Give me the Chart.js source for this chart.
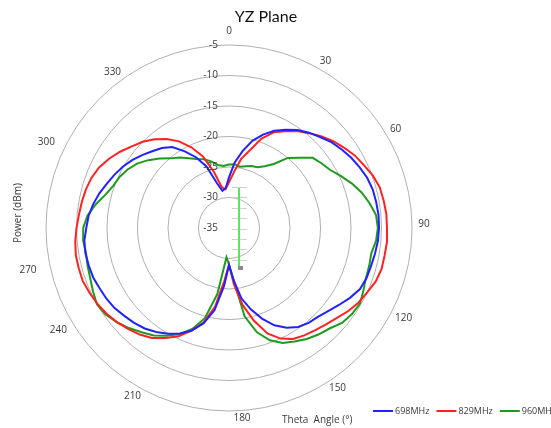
<!DOCTYPE html>
<html>
<head>
<meta charset="utf-8">
<script src="https://cdn.jsdelivr.net/npm/chart.js@4.4.1/dist/chart.umd.min.js"></script>
<style>
  html, body { margin: 0; padding: 0; background: #fff; overflow: hidden; }
  canvas { display: block; }
</style>
</head>
<body>
<canvas id="yzChart" width="565" height="428"></canvas>
<script>
const TITLE = "YZ Plane";
const Y_TITLE = "Power (dBm)";
const X_TITLE = "Theta  Angle (°)";

// theta, degrees (one sample every 5 deg)
const ANGLES = [
  0, 5, 10, 15, 20, 25, 30, 35, 40, 45, 50, 55,
  60, 65, 70, 75, 80, 85, 90, 95, 100, 105, 110, 115,
  120, 125, 130, 135, 140, 145, 150, 155, 160, 165, 170, 175,
  180, 185, 190, 195, 200, 205, 210, 215, 220, 225, 230, 235,
  240, 245, 250, 255, 260, 265, 270, 275, 280, 285, 290, 295,
  300, 305, 310, 315, 320, 325, 330, 335, 340, 345, 350, 355
];
const ANGLE_LABELS = [0, 30, 60, 90, 120, 150, 180, 210, 240, 270, 300, 330];
const RADIAL_TICKS = [-35, -30, -25, -20, -15, -10, -5];

const P698 = [
  -26.7, -24.2, -22.2, -20.2, -18.7, -17.4, -16.4, -15.4, -14.6, -13.9, -13.1, -12.5,
  -11.9, -11.4, -10.9, -10.6, -10.5, -10.4, -10.4, -10.5, -10.7, -10.9, -11.0, -11.3,
  -12.1, -13.0, -13.8, -14.4, -14.7, -15.2, -16.1, -17.4, -19.2, -21.2, -23.3, -26.4,
  -28.9, -25.4, -21.3, -18.8, -17.1, -15.9, -15.0, -14.2, -13.5, -13.0, -12.6, -12.1,
  -11.8, -11.6, -11.3, -11.2, -11.1, -11.2, -11.6, -11.9, -12.4, -13.0, -13.7, -14.3,
  -14.9, -15.6, -16.4, -17.2, -17.9, -18.8, -20.5, -22.2, -24.3, -27.4, -28.8, -28.5
];
const P829 = [
  -27.5, -25.8, -23.5, -21.8, -19.4, -17.7, -16.7, -15.6, -14.7, -13.7, -12.8, -12.0,
  -11.2, -10.6, -9.9, -9.4, -9.25, -9.1, -9.1, -9.0, -9.1, -9.1, -9.4, -10.0,
  -10.5, -11.2, -12.0, -12.6, -13.1, -13.5, -14.0, -15.0, -16.6, -19.3, -22.2, -25.7,
  -29.0, -26.3, -21.9, -19.0, -17.1, -15.4, -14.2, -13.0, -12.2, -11.6, -11.0, -10.5,
  -10.1, -9.8, -9.5, -9.5, -9.5, -9.7, -10.0, -10.3, -10.5, -10.7, -11.0, -11.5,
  -12.3, -13.2, -14.2, -15.0, -16.0, -17.2, -18.6, -20.4, -22.5, -25.5, -28.2, -28.6
];
const P960 = [
  -24.6, -24.5, -24.8, -24.5, -24.2, -24.0, -23.3, -22.2, -20.0, -18.7, -17.1, -16.5,
  -15.9, -14.8, -13.6, -12.5, -11.6, -10.8, -10.6, -10.8, -11.3, -11.2, -11.1, -10.7,
  -10.2, -10.4, -10.8, -11.7, -12.2, -12.8, -13.5, -14.2, -15.4, -17.3, -20.3, -26.5,
  -29.0, -30.2, -24.0, -19.7, -17.4, -15.8, -14.6, -13.5, -12.7, -11.8, -11.0, -10.3,
  -10.0, -10.4, -10.8, -11.0, -11.2, -11.0, -11.1, -11.7, -12.8, -14.0, -14.8, -15.2,
  -15.8, -16.6, -17.7, -18.9, -20.1, -20.9, -21.8, -22.5, -23.0, -23.7, -24.5, -24.8
];

const SERIES = [
  { label: "698MHz", data: P698, color: "#2222ff" },
  { label: "829MHz", data: P829, color: "#ff2222" },
  { label: "960MHz", data: P960, color: "#1f9a1f" }
];

// the original nudges a few angle labels off the circle
const LABEL_NUDGE = {
  30: [-2, 4], 60: [-4, 0], 90: [-2, -4], 120: [4, -8], 150: [10, -10],
  180: [13, -7], 210: [2, -2], 240: [0, 4], 270: [-4, 42], 300: [-12, 13], 330: [-18, 15]
};

const TEXT_FONT = "'Open Sans', 'DejaVu Sans', sans-serif";

// titles, ring values, angle labels, legend and the little slider bar
const decorPlugin = {
  id: "decor",
  afterDraw(chart) {
    const ctx = chart.ctx;
    const r = chart.scales.r;
    const cx = r.xCenter;
    const cy = r.yCenter;

    ctx.save();
    ctx.textBaseline = "middle";

    ctx.fillStyle = "#111";
    ctx.font = "16px Lato, sans-serif";
    ctx.textAlign = "center";
    ctx.fillText(TITLE, 266, 17);

    ctx.fillStyle = "#3a3a3a";
    ctx.font = "10px " + TEXT_FONT;
    ctx.textAlign = "right";
    RADIAL_TICKS.forEach(v => {
      ctx.fillText(String(v), cx - 11, cy - r.getDistanceFromCenterForValue(v));
    });

    ctx.textAlign = "center";
    ANGLE_LABELS.forEach(a => {
      const p = r.getPointPosition(ANGLES.indexOf(a), r.drawingArea + 14);
      const n = LABEL_NUDGE[a] || [0, 0];
      ctx.fillText(String(a), p.x + n[0], p.y + n[1]);
    });

    ctx.save();
    ctx.translate(18, 213);
    ctx.rotate(-Math.PI / 2);
    ctx.fillText(Y_TITLE, 0, 0);
    ctx.restore();

    ctx.textAlign = "left";
    ctx.fillText(X_TITLE, 282, 420);

    // legend
    ctx.font = "9px " + TEXT_FONT;
    let x = 373;
    const ly = 411;
    chart.data.datasets.forEach(ds => {
      ctx.strokeStyle = ds.borderColor;
      ctx.lineWidth = 2;
      ctx.beginPath();
      ctx.moveTo(x, ly);
      ctx.lineTo(x + 20, ly);
      ctx.stroke();
      ctx.fillStyle = "#3a3a3a";
      ctx.fillText(ds.label, x + 22, ly);
      x += 22 + ctx.measureText(ds.label).width + 7;
    });

    // slider bar near the centre
    ctx.strokeStyle = "#d0d0d0";
    ctx.lineWidth = 1;
    for (let k = 0; k < 8; k++) {
      const ty = Math.round(cy - 41 + k * 10.4) + 0.5;
      ctx.beginPath();
      ctx.moveTo(cx + 3, ty);
      ctx.lineTo(cx + 18, ty);
      ctx.stroke();
    }
    ctx.strokeStyle = "#5fe35f";
    ctx.lineWidth = 2;
    ctx.beginPath();
    ctx.moveTo(cx + 10, cy - 40);
    ctx.lineTo(cx + 10, cy + 40);
    ctx.stroke();
    ctx.fillStyle = "#8a8a8a";
    ctx.fillRect(cx + 9, cy + 38, 5, 4);

    ctx.restore();
  }
};

new Chart(document.getElementById("yzChart"), {
  type: "radar",
  data: {
    labels: ANGLES,
    datasets: SERIES.map(s => ({
      label: s.label,
      data: s.data,
      borderColor: s.color,
      backgroundColor: s.color,
      borderWidth: 2,
      fill: false,
      tension: 0,
      pointRadius: 0
    }))
  },
  options: {
    responsive: false,
    animation: false,
    layout: {
      padding: { left: 46, right: 153, top: 45, bottom: 17 }
    },
    plugins: {
      legend: { display: false },
      tooltip: { enabled: false }
    },
    scales: {
      r: {
        min: -35,
        max: -5,
        ticks: { stepSize: 5, display: false },
        grid: { color: "#b0b0b0", lineWidth: 1, circular: true },
        angleLines: { display: false },
        pointLabels: { display: false }
      }
    }
  },
  plugins: [decorPlugin]
});
</script>
</body>
</html>
